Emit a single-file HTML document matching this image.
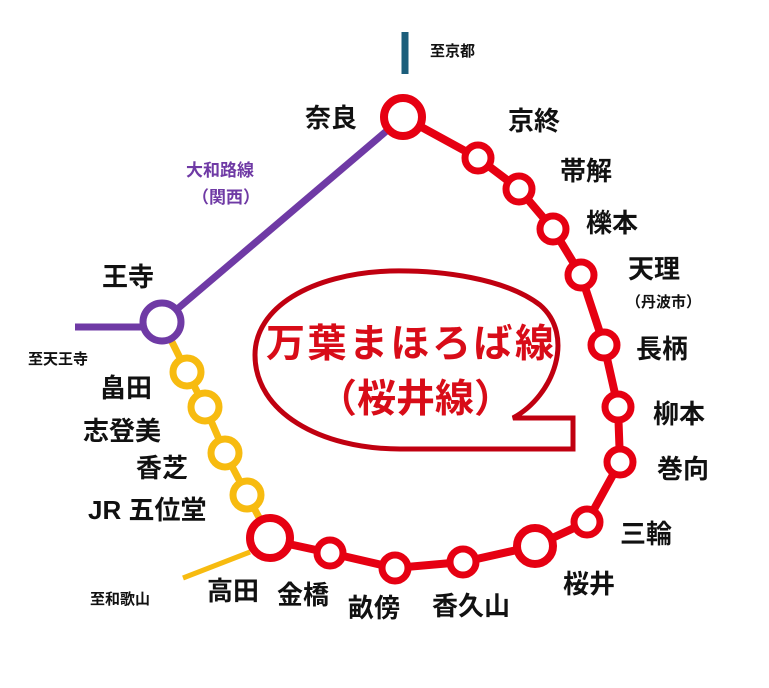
<!DOCTYPE html>
<html><head><meta charset="utf-8"><style>
html,body{margin:0;padding:0;background:#fff;width:769px;height:688px;overflow:hidden}
svg text{font-family:"Liberation Sans","Noto Sans CJK JP",sans-serif;font-weight:bold}
</style></head><body>
<svg width="769" height="688" viewBox="0 0 769 688" xmlns="http://www.w3.org/2000/svg">
<line x1="405" y1="32" x2="405" y2="74" stroke="#1b5e7b" stroke-width="7"/>
<line x1="403" y1="117" x2="162" y2="322" stroke="#6f3aa5" stroke-width="7"/>
<line x1="75" y1="327" x2="150" y2="327" stroke="#6f3aa5" stroke-width="7"/>
<polyline points="162,322 187,372 205,407 225,453 247,495 270,538" fill="none" stroke="#f7bb10" stroke-width="7"/>
<line x1="183" y1="578" x2="250" y2="552" stroke="#f7bb10" stroke-width="5"/>
<polyline points="403,117 478,158 519,189 553,229 581,275 604,345 618,407 620,462 587,522 535,546 463,562 395,568 330,553 270,540" fill="none" stroke="#e60012" stroke-width="8"/>
<path d="M513,418 C555,395 575,335 540,305 C505,278 440,270 390,271 C310,274 255,308 255,355 C255,412 320,449 400,449 L573,449 L573,418 Z" fill="none" stroke="#c00010" stroke-width="5"/>
<g fill="#fff" stroke-width="7">
<circle cx="403" cy="117" r="19" stroke="#e60012" stroke-width="8"/>
<circle cx="162" cy="322" r="19" stroke="#6f3aa5" stroke-width="7"/>
<g stroke="#f7bb10"><circle cx="187" cy="372" r="14"/><circle cx="205" cy="407" r="14"/><circle cx="225" cy="453" r="14"/><circle cx="247" cy="495" r="14"/></g>
<g stroke="#e60012">
<circle cx="478" cy="158" r="13"/><circle cx="519" cy="189" r="13"/><circle cx="553" cy="229" r="13"/><circle cx="581" cy="275" r="13"/><circle cx="604" cy="345" r="13"/><circle cx="618" cy="407" r="13"/><circle cx="620" cy="462" r="13"/><circle cx="587" cy="522" r="13"/><circle cx="463" cy="562" r="13"/><circle cx="395" cy="568" r="13"/><circle cx="330" cy="553" r="13"/>
<circle cx="535" cy="546" r="18" stroke-width="8"/><circle cx="270" cy="538" r="20" stroke-width="8"/>
</g></g>
<g font-size="26" fill="#111">
<text x="305" y="127">奈良</text>
<text x="508" y="130">京終</text>
<text x="560" y="180">帯解</text>
<text x="586" y="232">櫟本</text>
<text x="628" y="278">天理</text>
<text x="636" y="358">長柄</text>
<text x="653" y="423">柳本</text>
<text x="657" y="478">巻向</text>
<text x="620" y="543">三輪</text>
<text x="563" y="593">桜井</text>
<text x="432" y="615">香久山</text>
<text x="348" y="617">畝傍</text>
<text x="277" y="604">金橋</text>
<text x="207" y="600">高田</text>
<text x="102" y="286">王寺</text>
<text x="100" y="397">畠田</text>
<text x="83" y="440">志登美</text>
<text x="136" y="477">香芝</text>
<text x="88" y="519">JR 五位堂</text>
</g>
<g font-size="15" fill="#111" font-weight="normal">
<text x="626" y="307">（丹波市）</text>
<text x="430" y="56">至京都</text>
<text x="28" y="364">至天王寺</text>
<text x="90" y="604">至和歌山</text>
</g>
<g font-size="17" fill="#6f3aa5"><text x="186" y="176">大和路線</text><text x="192" y="203">（関西）</text></g>
<g font-size="39" fill="#d80c18" style="font-weight:500"><text x="266" y="357" textLength="288">万葉まほろば線</text><text x="318" y="412">（桜井線）</text></g>
</svg>
</body></html>
